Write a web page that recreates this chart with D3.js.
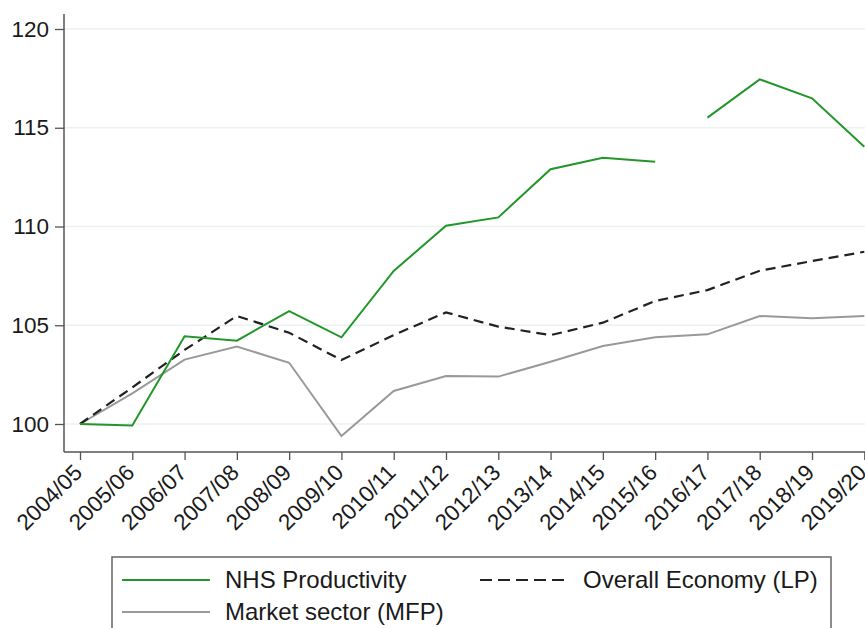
<!DOCTYPE html>
<html>
<head>
<meta charset="utf-8">
<script src="https://cdn.jsdelivr.net/npm/d3@7"></script>
<style>
  body { margin: 0; background: #fff; }
  svg text { font-family: "Liberation Sans", Arial, sans-serif; fill: #1a1a1a; }
</style>
</head>
<body>
<svg width="865" height="628"></svg>
<script>
// data
var years = ["2004/05","2005/06","2006/07","2007/08","2008/09","2009/10","2010/11","2011/12",
             "2012/13","2013/14","2014/15","2015/16","2016/17","2017/18","2018/19","2019/20"];
var nhs     = [100, 99.93, 104.44, 104.22, 105.72, 104.39, 107.75, 110.04, 110.46, 112.9, 113.48, 113.28, 115.51, 117.45, 116.49, 114.04];
var nhsBreakAfter = "2015/16";   // series break between 2015/16 and 2016/17
var economy = [100, 101.85, 103.75, 105.47, 104.62, 103.24, 104.5, 105.65, 104.93, 104.5, 105.13, 106.23, 106.78, 107.76, 108.25, 108.72];
var market  = [100, 101.55, 103.26, 103.92, 103.1, 99.39, 101.67, 102.43, 102.4, 103.15, 103.95, 104.39, 104.54, 105.47, 105.35, 105.47];
var yTicks = [100, 105, 110, 115, 120];

function draw() {
    var svg = d3.select("svg");
    var left = 64, bottom = 452, top = 14, right = 865;

    var x = d3.scalePoint().domain(years).range([80, 864.3]);
    var y = d3.scaleLinear().domain([100, 120]).range([424, 29]);

    // gridlines
    svg.append("g")
        .selectAll("line")
        .data(yTicks)
        .enter()
        .append("line")
        .attr("x1", left).attr("x2", right)
        .attr("y1", d => y(d)).attr("y2", d => y(d))
        .attr("stroke", "#eaf1f3")
        .attr("stroke-width", 1.5);

    // y axis
    var ya = svg.append("g")
        .attr("transform", "translate(" + left + ",0)")
        .call(d3.axisLeft(y).tickValues(yTicks).tickSize(9).tickPadding(6));
    ya.select(".domain").remove();
    ya.selectAll(".tick line").attr("stroke", "#555").attr("stroke-width", 1.3);
    ya.selectAll(".tick text").style("font-size", "22.5px").attr("fill", "#1a1a1a");

    // x axis
    var xa = svg.append("g")
        .attr("transform", "translate(0," + bottom + ")")
        .call(d3.axisBottom(x).tickSize(8).tickSizeOuter(0));
    xa.select(".domain").remove();
    xa.selectAll(".tick line").attr("stroke", "#555").attr("stroke-width", 1.3);
    xa.selectAll(".tick text")
        .style("font-size", "22.5px")
        .attr("fill", "#1a1a1a")
        .attr("text-anchor", "end")
        .attr("dy", null)
        .attr("y", 0)
        .attr("transform", "translate(3,22) rotate(-45)");

    // axis lines
    svg.append("line").attr("x1", left).attr("x2", left).attr("y1", top).attr("y2", bottom)
        .attr("stroke", "#555").attr("stroke-width", 1.5);
    svg.append("line").attr("x1", left).attr("x2", right).attr("y1", bottom).attr("y2", bottom)
        .attr("stroke", "#555").attr("stroke-width", 1.5);

    var line = d3.line()
        .x(d => x(d.year))
        .y(d => y(d.value));

    function pts(vals) {
        return years.map((yr, i) => ({ year: yr, value: vals[i] }));
    }

    svg.append("path")
        .datum(pts(market))
        .attr("d", line)
        .attr("fill", "none")
        .attr("stroke", "#999")
        .attr("stroke-width", 2);

    svg.append("path")
        .datum(pts(economy))
        .attr("d", line)
        .attr("fill", "none")
        .attr("stroke", "#222")
        .attr("stroke-width", 2.2)
        .attr("stroke-dasharray", "10,6");

    var nhsPts = pts(nhs);
    var cut = years.indexOf(nhsBreakAfter) + 1;
    [nhsPts.slice(0, cut), nhsPts.slice(cut)].forEach(function(seg) {
        svg.append("path")
            .datum(seg)
            .attr("d", line)
            .attr("fill", "none")
            .attr("stroke", "#23962a")
            .attr("stroke-width", 2);
    });

    // legend
    var lg = svg.append("g");
    lg.append("rect")
        .attr("x", 112).attr("y", 557)
        .attr("width", 719).attr("height", 100)
        .attr("fill", "#fff")
        .attr("stroke", "#666")
        .attr("stroke-width", 1.5);

    var items = [
        { label: "NHS Productivity", color: "#23962a", dash: null, x: 122, y: 580 },
        { label: "Overall Economy (LP)", color: "#222", dash: "12,6", x: 480, y: 580 },
        { label: "Market sector (MFP)", color: "#999", dash: null, x: 122, y: 612 }
    ];
    items.forEach(function(it) {
        lg.append("line")
            .attr("x1", it.x).attr("x2", it.x + 88)
            .attr("y1", it.y).attr("y2", it.y)
            .attr("stroke", it.color)
            .attr("stroke-width", 2)
            .attr("stroke-dasharray", it.dash);
        lg.append("text")
            .attr("x", it.x + 103)
            .attr("y", it.y + 8)
            .style("font-size", "24px")
            .text(it.label);
    });
}

draw();
</script>
</body>
</html>
